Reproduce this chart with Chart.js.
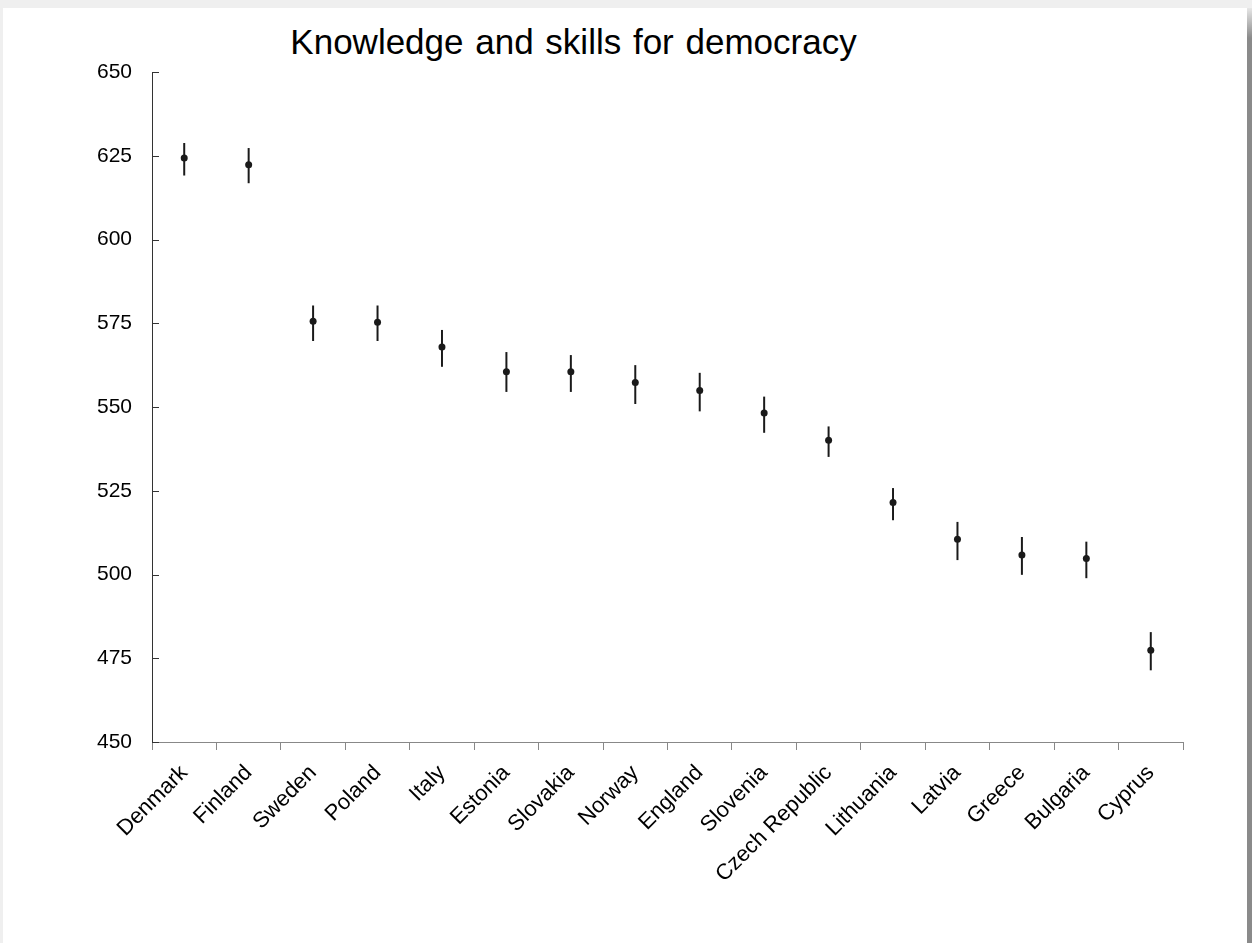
<!DOCTYPE html>
<html>
<head>
<meta charset="utf-8">
<script src="https://cdn.jsdelivr.net/npm/chart.js@4"></script>
<style>
  html, body { margin: 0; padding: 0; background: #efefef; }
  #frame { position: absolute; left: 3px; top: 8px; width: 1244px; height: 935px; background: #fff; }
  #shade { position: absolute; left: 1247px; top: 8px; width: 5px; height: 935px;
           background: linear-gradient(#e6e6e6 0px, #8a8a8a 30px, #8a8a8a 100%); }
  #title { position: absolute; left: 0; top: 24px; width: 1147px; text-align: center;
           font: 35px "Liberation Sans", Arial, sans-serif; line-height: 35px; word-spacing: 2px; color: #000; }
  #wrap { position: absolute; left: 0; top: 0; width: 1252px; height: 943px; }
  #myChart { display: block; width: 1252px; height: 943px; }
</style>
</head>
<body>
<div id="frame"></div>
<div id="shade"></div>
<div id="title">Knowledge and skills for democracy</div>
<div id="wrap"><canvas id="myChart" width="1252" height="943"></canvas></div>
<script>
// datos
const countries = ['Denmark', 'Finland', 'Sweden', 'Poland', 'Italy', 'Estonia', 'Slovakia', 'Norway',
                   'England', 'Slovenia', 'Czech Republic', 'Lithuania', 'Latvia', 'Greece', 'Bulgaria', 'Cyprus'];
const scores = [624.3, 622.3, 575.6, 575.3, 567.9, 560.5, 560.5, 557.3, 554.9, 548.2, 540.1, 521.5, 510.5, 505.8, 504.8, 477.4];
const upper  = [628.8, 627.3, 580.3, 580.3, 573.0, 566.4, 565.5, 562.5, 560.2, 553.1, 544.2, 525.8, 515.7, 511.2, 509.8, 482.8];
const lower  = [619.1, 616.8, 569.7, 569.7, 562.0, 554.5, 554.5, 550.9, 548.7, 542.3, 535.1, 516.2, 504.3, 499.9, 498.9, 471.4];
const yMin = 450, yMax = 650, yStep = 25;

const family = '"Liberation Sans", Arial, sans-serif';

// barras de error (intervalos)
const errorBars = {
    id: 'errorBars',
    beforeDatasetsDraw(chart) {
        const { ctx, scales: { x, y } } = chart;
        ctx.save();
        ctx.strokeStyle = '#1a1a1a';
        ctx.lineWidth = 2;
        countries.forEach((c, i) => {
            const px = x.getPixelForValue(i);
            ctx.beginPath();
            ctx.moveTo(px, y.getPixelForValue(upper[i]));
            ctx.lineTo(px, y.getPixelForValue(lower[i]));
            ctx.stroke();
        });
        ctx.restore();
    }
};

// marcas del eje Y hacia adentro
const innerTicks = {
    id: 'innerTicks',
    afterDraw(chart) {
        const { ctx, scales: { y } } = chart;
        ctx.save();
        ctx.strokeStyle = '#333';
        ctx.lineWidth = 1;
        y.ticks.forEach(t => {
            const py = Math.round(y.getPixelForValue(t.value)) + 0.5;
            ctx.beginPath();
            ctx.moveTo(y.right, py);
            ctx.lineTo(y.right + 7, py);
            ctx.stroke();
        });
        ctx.restore();
    }
};

const ctx = document.getElementById('myChart');

new Chart(ctx, {
    type: 'line',
    data: {
        labels: countries,
        datasets: [{
            label: 'Knowledge and skills for democracy',
            data: scores,
            showLine: false,
            pointRadius: 3.5,
            pointBackgroundColor: '#1a1a1a',
            pointBorderColor: '#1a1a1a',
            pointBorderWidth: 0
        }]
    },
    options: {
        responsive: false,
        animation: false,
        devicePixelRatio: 1,
        layout: { padding: { top: 72, right: 69, left: 0, bottom: 0 } },
        plugins: {
            legend: { display: false },
            tooltip: { enabled: false },
            title: { display: false }
        },
        scales: {
            x: {
                type: 'category',
                offset: true,
                grid: {
                    offset: true,
                    drawOnChartArea: false,
                    drawTicks: true,
                    tickLength: 8,
                    color: '#888'
                },
                border: { color: '#888', width: 1 },
                ticks: {
                    color: '#000',
                    font: { family: family, size: 22 },
                    maxRotation: 45,
                    minRotation: 45,
                    autoSkip: false,
                    padding: 10
                },
                afterFit(scale) { scale.height = 201; }
            },
            y: {
                min: yMin,
                max: yMax,
                grid: { display: false, drawTicks: false },
                border: { color: '#333', width: 1 },
                ticks: {
                    stepSize: yStep,
                    color: '#000',
                    font: { family: family, size: 21 },
                    padding: 20
                },
                afterFit(scale) { scale.width = 152; }
            }
        }
    },
    plugins: [errorBars, innerTicks]
});
</script>
</body>
</html>
